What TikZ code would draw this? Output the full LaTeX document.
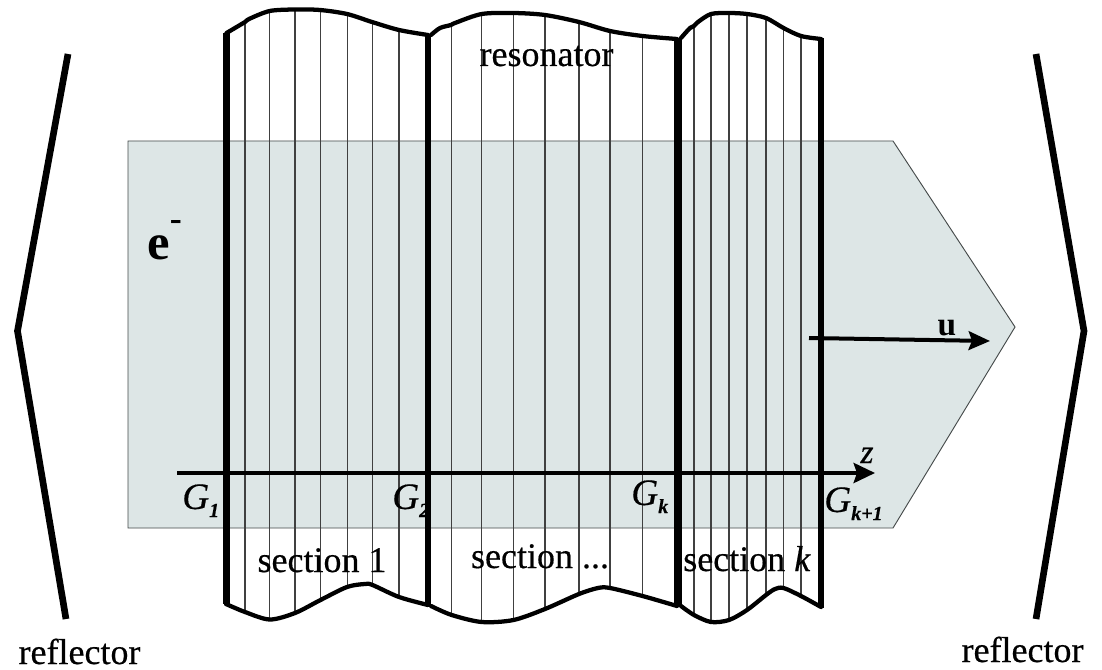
\documentclass[tikz,border=0pt]{standalone}
\usepackage{fontspec}
\setmainfont{Liberation Serif}
\usetikzlibrary{arrows.meta}
\definecolor{beam}{RGB}{221,230,230}
\definecolor{beamedge}{RGB}{70,75,75}
\newcommand{\SecOneTop}{(226.5,33) (245,22) (249,19) (269.7,11) (295,9.5) (320,10) (347,14) (372,22) (399,30) (428,35)}
\newcommand{\SecOneBot}{(226,604) (245,612) (269.7,619.5) (295,613) (320.5,600) (347,587) (365,584) (372.5,585) (399,597) (428,605)}
\newcommand{\SecTwoTop}{(431,35) (440,28) (451,25) (455,23) (481.7,14) (513.5,13) (545,15) (579,22) (610,31) (642.5,36) (677,39)}
\newcommand{\SecTwoBot}{(431,606) (451.7,615) (481.7,622) (513.5,620) (545,609) (579,594) (598,588) (610,588) (642.5,596) (677,606)}
\newcommand{\SecKTop}{(681,38) (690,28) (694,26) (698,22) (711,14) (729,13) (747,14) (766,18) (783.5,28) (801,36) (821,39)}
\newcommand{\SecKBot}{(681,606) (694,615) (711,622) (729,620) (747,610) (766,595) (775,589) (783.5,588) (801,596) (821,607)}
\newcommand{\gsub}[1]{{\fontsize{15}{15}\selectfont\bfseries\itshape\raisebox{-6pt}{#1}}}
\tikzset{
  x=0.75pt,y=-0.75pt,
  thinline/.style={line width=0.85pt,black!75},
  wavy/.style={line width=3.2pt,line join=round,line cap=round},
  wall/.style={line width=5pt,line cap=butt},
  refl/.style={line width=5pt,line join=miter},
  axisline/.style={line width=3pt,-{Stealth[length=16pt,width=15pt,inset=2.5pt]}},
  vel/.style={line width=3pt,-{Stealth[length=16pt,width=14pt,inset=2.5pt]}},
  lab/.style={inner sep=0pt,anchor=base,font=\fontsize{27}{27}\selectfont\addfontfeature{FakeBold=0.4}},
  glab/.style={inner sep=0pt,anchor=base west,font=\fontsize{28}{28}\selectfont\itshape\addfontfeature{FakeBold=0.4}},
}
\begin{document}
\begin{tikzpicture}
\useasboundingbox (0,0) rectangle (1102,670);
\fill[white] (0,0) rectangle (1102,670);
% beam
\path[fill=beam,draw=beamedge,line width=0.7pt] (128,141) -- (893,141) -- (1015,327) -- (893,528) -- (128,528) -- cycle;
% thin section lines
\begin{scope}
\clip plot[smooth,tension=0.5] coordinates {\SecOneTop} -- plot[smooth,tension=0.5] coordinates {(428,605) (399,597) (372.5,585) (365,584) (347,587) (320.5,600) (295,613) (269.7,619.5) (245,612) (226,604)} -- cycle;
\foreach \x in {245,269.7,295,320.5,347.5,372.5,399} \draw[thinline] (\x,0) -- (\x,670);
\end{scope}
\begin{scope}
\clip plot[smooth,tension=0.5] coordinates {\SecTwoTop} -- plot[smooth,tension=0.5] coordinates {(677,606) (642.5,596) (610,588) (598,588) (579,594) (545,609) (513.5,620) (481.7,622) (451.7,615) (431,606)} -- cycle;
\foreach \x in {451.7,481.7,513.5,545,579,610,642.5} \draw[thinline] (\x,0) -- (\x,670);
\end{scope}
\begin{scope}
\clip plot[smooth,tension=0.5] coordinates {\SecKTop} -- plot[smooth,tension=0.5] coordinates {(821,607) (801,596) (783.5,588) (775,589) (766,595) (747,610) (729,620) (711,622) (694,615) (681,606)} -- cycle;
\foreach \x in {694,711,729,747,766,783.5,801} \draw[thinline] (\x,0) -- (\x,670);
\end{scope}
% walls
\draw[wall] (226.5,33) -- (226.5,604);
\draw[wall] (428,35) -- (428,605);
\draw[wall,line width=6pt] (677.7,38) -- (677.7,607);
\draw[wall,line width=4.6pt] (821,38) -- (821,608);
% wavy edges
\draw[wavy] plot[smooth,tension=0.5] coordinates {\SecOneTop};
\draw[wavy] plot[smooth,tension=0.5] coordinates {\SecOneBot};
\draw[wavy] plot[smooth,tension=0.5] coordinates {\SecTwoTop};
\draw[wavy] plot[smooth,tension=0.5] coordinates {\SecTwoBot};
\draw[wavy] plot[smooth,tension=0.5] coordinates {\SecKTop};
\draw[wavy] plot[smooth,tension=0.5] coordinates {\SecKBot};
% axis and velocity
\coordinate (zs) at (177,473);
\coordinate (ze) at (875,473);
\coordinate (us) at (809,338);
\coordinate (ue) at (990,341);
\draw[axisline] (zs) -- (ze);
\draw[vel] (us) -- (ue);
% reflectors
\draw[refl] (68,54) -- (17.5,331) -- (66,619);
\draw[refl] (1036,54) -- (1084,331) -- (1036,619);
% labels
\node[lab] (res) at (546.5,66) {resonator};
\node[lab] (s1) at (322,572) {section 1};
\node[lab] (s2) at (540,568) {section ...};
\node[lab] (sk) at (747,571) {section \textit{k}};
\node[lab] (r1) at (79.5,664) {reflector};
\node[lab] (r2) at (1022.5,662) {reflector};
\node[lab,anchor=base west,font=\fontsize{38}{38}\selectfont\bfseries] (e) at (147,259) {e\raisebox{21pt}{\fontsize{27}{27}\selectfont -}};
\node[lab,font=\fontsize{25}{25}\selectfont\bfseries] (u) at (947,335) {u};
\node[lab,font=\fontsize{25}{25}\selectfont\itshape\addfontfeature{FakeBold=0.5}] (z) at (867,463) {z};
\node[glab] (g1) at (182,509) {G\gsub{1}};
\node[glab] (g2) at (392,509) {G\gsub{2}};
\node[glab] (gk) at (631,505) {G\gsub{k}};
\node[glab] (gk1) at (824,512) {G\gsub{k+1}};
\end{tikzpicture}
\end{document}
